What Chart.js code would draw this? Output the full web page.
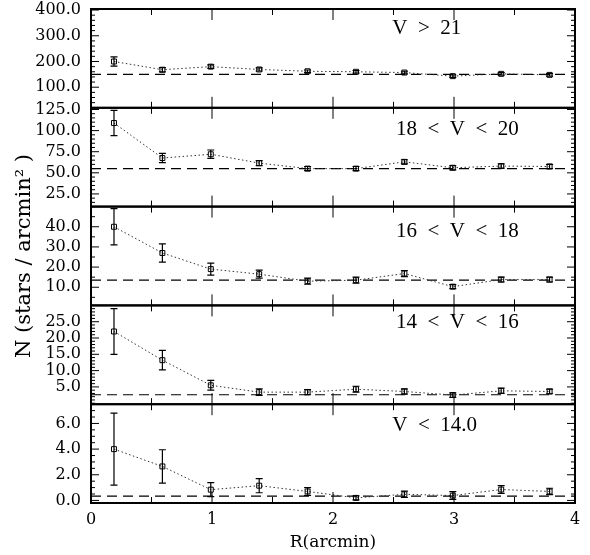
<!DOCTYPE html>
<html>
<head>
<meta charset="utf-8">
<script src="https://cdn.jsdelivr.net/npm/chart.js@4.4.1/dist/chart.umd.min.js"></script>
<style>
html, body { margin: 0; padding: 0; background: #fff; }
canvas { display: block; }
</style>
</head>
<body>
<canvas id="profile" width="590" height="555" style="width:590px;height:555px"></canvas>
<script>
// annulus radius (arcmin)
const radii = [0.19, 0.59, 0.99, 1.39, 1.79, 2.19, 2.59, 2.99, 3.39, 3.79];

// magnitude bins, top panel first
const binLabels = ['V  >  21', '18  <  V  <  20', '16  <  V  <  18', '14  <  V  <  16', 'V  <  14.0'];

// star density per bin and its error
const densV21 = [200, 168, 180, 169, 162, 160, 157, 143, 152, 148];
const errV21 = [18, 8, 7, 6, 5, 5, 5, 5, 5, 5];
const densV18 = [109, 67.5, 72, 61.5, 55, 55, 63, 56, 58, 57.5];
const errV18 = [15, 5.5, 5, 3, 2.5, 2.5, 2.5, 2.5, 2.5, 2.5];
const densV16 = [40, 27, 19, 16.5, 13, 13.5, 16.8, 10.3, 13.8, 13.8];
const errV16 = [9, 4.5, 3, 2, 1.5, 1.5, 1.5, 1, 1.2, 1.2];
const densV14 = [22, 13.2, 5.5, 3.4, 3.4, 4.3, 3.6, 2.5, 3.8, 3.6];
const errV14 = [7, 3, 1.5, 1, 0.8, 0.9, 0.8, 0.7, 0.8, 0.7];
const densBright = [4.0, 2.65, 0.84, 1.15, 0.7, 0.2, 0.48, 0.38, 0.85, 0.7];
const errBright = [2.8, 1.3, 0.55, 0.55, 0.3, 0.15, 0.25, 0.3, 0.3, 0.25];

// field (background) level per bin
const fieldLevels = [150, 55, 13.5, 2.6, 0.33];

// y axis ranges and labelled ticks per bin
const yMins = [20, 10, 1, -0.3, -0.2];
const yMaxs = [404, 127, 50, 30, 7.5];
const yTicksV21 = [100, 200, 300, 400];
const yTicksV18 = [25, 50, 75, 100, 125];
const yTicksV16 = [10, 20, 30, 40];
const yTicksV14 = [5, 10, 15, 20, 25];
const yTicksBright = [0, 2, 4, 6];
const yMinorSteps = [20, 5, 5, 1, 0.5];

const xTicks = [0, 1, 2, 3, 4];

const serif = "'DejaVu Serif', serif";
const times = "'Liberation Serif', serif";

const panels = [
  { id: 'yA', dens: densV21, err: errV21, ticks: yTicksV21 },
  { id: 'yB', dens: densV18, err: errV18, ticks: yTicksV18 },
  { id: 'yC', dens: densV16, err: errV16, ticks: yTicksV16 },
  { id: 'yD', dens: densV14, err: errV14, ticks: yTicksV14 },
  { id: 'yE', dens: densBright, err: errBright, ticks: yTicksBright }
];
const labelOffsets = [19, 22, 25, 17, 21];

const datasets = [];
panels.forEach((p, i) => {
  datasets.push({
    data: radii.map((r, j) => ({ x: r, y: p.dens[j] })),
    yAxisID: p.id,
    borderColor: '#333',
    borderWidth: 1,
    borderDash: [1.5, 2.5],
    pointStyle: 'rect',
    pointRadius: 3.5,
    pointBorderWidth: 1,
    pointBorderColor: '#000',
    pointBackgroundColor: 'rgba(0,0,0,0)',
    tension: 0
  });
  datasets.push({
    data: [{ x: 0, y: fieldLevels[i] }, { x: 4, y: fieldLevels[i] }],
    yAxisID: p.id,
    borderColor: '#000',
    borderWidth: 1.2,
    borderDash: [10, 6],
    pointRadius: 0
  });
});

// scales: listed bottom panel first so the stack reads top-down A..E
const scales = {
  x: {
    type: 'linear', position: 'bottom', min: 0, max: 4,
    grid: { display: false, drawTicks: false },
    border: { display: false },
    afterBuildTicks: s => { s.ticks = xTicks.map(v => ({ value: v })); },
    ticks: { padding: 7, color: '#000', font: { family: serif, size: 16 }, callback: v => String(v) },
    title: { display: true, text: 'R(arcmin)', color: '#000', font: { family: serif, size: 17 }, padding: { top: 0, bottom: 2 } },
    afterFit: s => { s.height = 52; s.paddingLeft = 0; s.paddingRight = 0; }
  }
};
panels.slice().reverse().forEach(p => {
  const i = panels.indexOf(p);
  scales[p.id] = {
    type: 'linear', position: 'left', stack: 'bins', stackWeight: 1,
    min: yMins[i], max: yMaxs[i],
    grid: { display: false, drawTicks: true, tickLength: 10 },
    border: { display: false },
    afterBuildTicks: s => { s.ticks = p.ticks.map(v => ({ value: v })); },
    ticks: { padding: 0, autoSkip: false, color: '#000', font: { family: serif, size: 16, lineHeight: 1 }, callback: v => v.toFixed(1) },
    title: p.id === 'yC'
      ? { display: true, text: 'N (stars / arcmin² )', color: '#000', font: { family: serif, size: 21 }, padding: { top: 12, bottom: 0 } }
      : { display: false },
    afterFit: s => { s.width = 91; s.paddingTop = 0; s.paddingBottom = 0; }
  };
});

// frame, inward ticks, error bars and bin labels
const panelDecor = {
  id: 'panelDecor',
  afterDatasetsDraw(chart) {
    const { ctx, chartArea: area } = chart;
    const xs = chart.scales.x;
    ctx.save();
    ctx.strokeStyle = '#000';
    ctx.fillStyle = '#000';
    panels.forEach((p, i) => {
      const ys = chart.scales[p.id];
      const top = ys.top, bottom = ys.bottom;

      // error bars
      ctx.lineWidth = 1.2;
      ctx.beginPath();
      radii.forEach((r, j) => {
        const px = xs.getPixelForValue(r);
        const lo = ys.getPixelForValue(p.dens[j] - p.err[j]);
        const hi = ys.getPixelForValue(p.dens[j] + p.err[j]);
        ctx.moveTo(px, lo); ctx.lineTo(px, hi);
        ctx.moveTo(px - 3.5, lo); ctx.lineTo(px + 3.5, lo);
        ctx.moveTo(px - 3.5, hi); ctx.lineTo(px + 3.5, hi);
      });
      ctx.stroke();

      // y ticks, left and right, pointing inward
      ctx.lineWidth = 1;
      ctx.beginPath();
      const step = yMinorSteps[i];
      for (let k = Math.ceil(yMins[i] / step); k * step <= yMaxs[i]; k++) {
        const py = ys.getPixelForValue(k * step);
        const len = p.ticks.some(t => Math.abs(t - k * step) < 1e-9) ? 8 : 4;
        ctx.moveTo(area.left, py); ctx.lineTo(area.left + len, py);
        ctx.moveTo(area.right, py); ctx.lineTo(area.right - len, py);
      }
      // x ticks every 0.5 on both edges of the panel
      for (let k = 1; k < 8; k++) {
        const px = xs.getPixelForValue(k * 0.5);
        const len = k % 2 === 0 ? 11 : 6;
        ctx.moveTo(px, top); ctx.lineTo(px, top + len);
        ctx.moveTo(px, bottom); ctx.lineTo(px, bottom - len);
      }
      ctx.stroke();

      // frame
      ctx.lineWidth = 2;
      ctx.strokeRect(area.left, top, area.right - area.left, bottom - top);

      // bin label
      ctx.font = '21px ' + times;
      ctx.textAlign = 'left';
      ctx.textBaseline = 'middle';
      const lx = xs.getPixelForValue(i === 0 || i === 4 ? 2.49 : 2.52);
      ctx.fillText(binLabels[i], lx, top + labelOffsets[i]);
    });
    ctx.restore();
  }
};

new Chart(document.getElementById('profile'), {
  type: 'line',
  data: { datasets },
  options: {
    responsive: false,
    animation: false,
    devicePixelRatio: 1,
    layout: { padding: { top: 9, right: 15, bottom: 0, left: 0 } },
    plugins: { legend: { display: false }, tooltip: { enabled: false } },
    scales
  },
  plugins: [panelDecor]
});
</script>
</body>
</html>
